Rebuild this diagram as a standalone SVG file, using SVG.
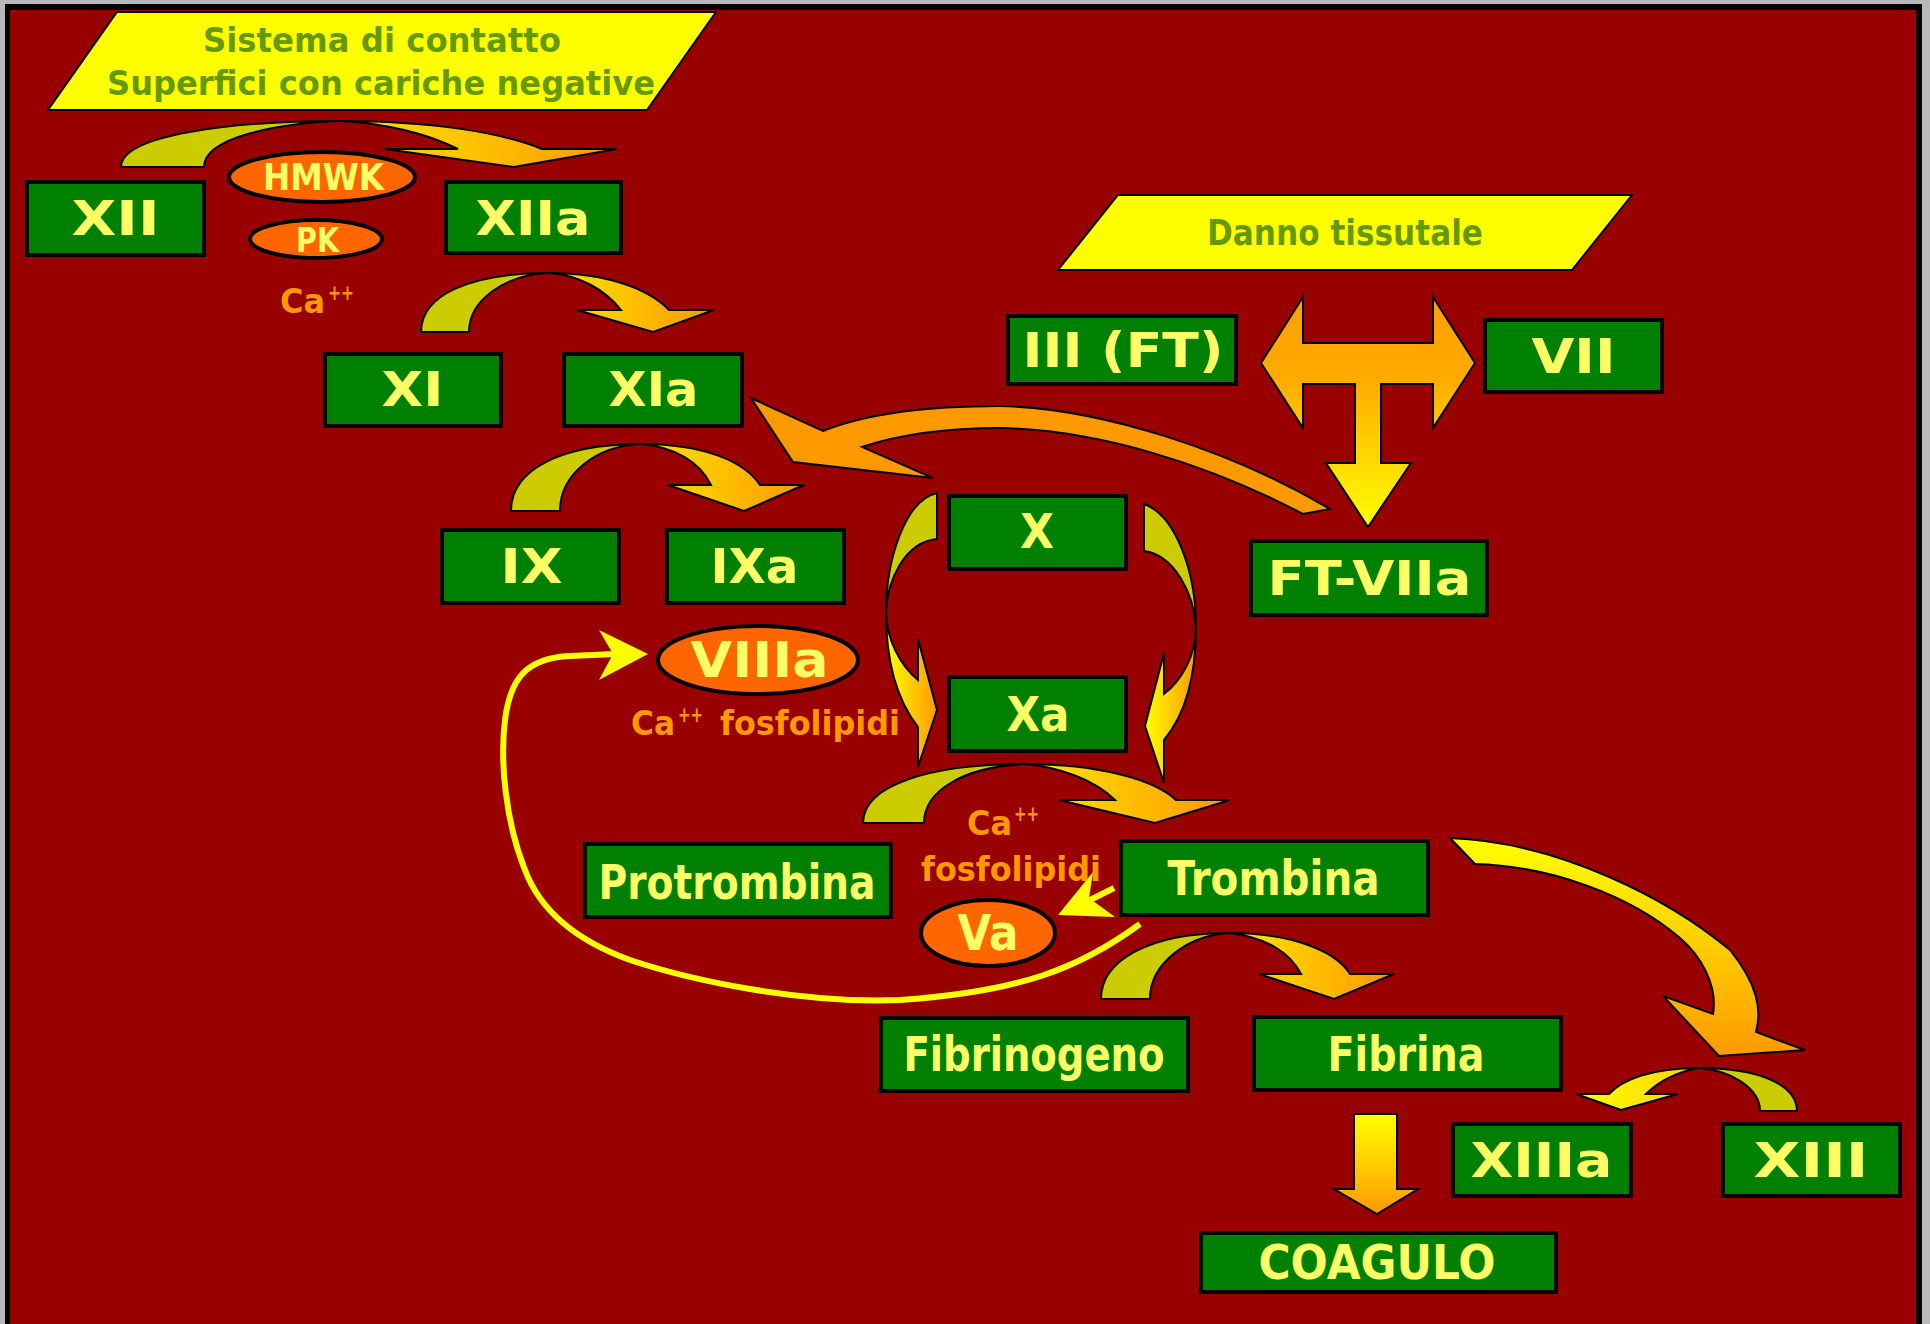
<svg xmlns="http://www.w3.org/2000/svg" width="1930" height="1324" viewBox="0 0 1930 1324">
  <defs>
    <linearGradient id="gH" x1="0" y1="0" x2="1" y2="0">
      <stop offset="0" stop-color="#FFE600"/>
      <stop offset="1" stop-color="#FF9900"/>
    </linearGradient>
    <linearGradient id="gHrev" x1="1" y1="0" x2="0" y2="0">
      <stop offset="0" stop-color="#FFD200"/>
      <stop offset="1" stop-color="#FFFF00"/>
    </linearGradient>
    <linearGradient id="gSide" x1="0" y1="0" x2="1" y2="0">
      <stop offset="0" stop-color="#FFFF00"/>
      <stop offset="1" stop-color="#FF9900"/>
    </linearGradient>
    <linearGradient id="gDown" x1="0" y1="0" x2="0" y2="1">
      <stop offset="0" stop-color="#FFFF00"/>
      <stop offset="1" stop-color="#FF9900"/>
    </linearGradient>
    <linearGradient id="gT" x1="0" y1="0" x2="0" y2="1">
      <stop offset="0" stop-color="#FFA000"/>
      <stop offset="0.35" stop-color="#FFAA00"/>
      <stop offset="1" stop-color="#FFFF00"/>
    </linearGradient>
    <style>
      .box { fill: #008000; stroke: #000; stroke-width: 4; }
      .ell { fill: #FF6600; stroke: #000; stroke-width: 4; }
      .lbl { font-family: "DejaVu Sans", "Liberation Sans", sans-serif; font-weight: bold; fill: #FFFF66; text-anchor: middle; }
      .para { fill: #FFFF00; stroke: #000; stroke-width: 2; }
      .ptxt { font-family: "DejaVu Sans", "Liberation Sans", sans-serif; font-weight: bold; fill: #669900; text-anchor: middle; }
      .cof { font-family: "DejaVu Sans", "Liberation Sans", sans-serif; font-weight: bold; fill: #FF9900; }
      .olive { fill: #CCCC00; stroke: #000; stroke-width: 2; stroke-linejoin: round; }
      .arr { stroke: #000; stroke-width: 2; stroke-linejoin: miter; }
    </style>
  </defs>

  <!-- slide frame -->
  <rect x="0" y="0" width="1930" height="1324" fill="#B8B8B8"/>
  <rect x="5" y="4" width="1917" height="1330" fill="#000"/>
  <rect x="10" y="10" width="1906" height="1330" fill="#990000"/>

  <!-- header banners -->
  <g id="sistema-contatto">
    <polygon class="para" points="117,12 716,12 647,110 48,110"/>
    <text class="ptxt" x="382" y="52" font-size="34" textLength="358" lengthAdjust="spacingAndGlyphs">Sistema di contatto</text>
    <text class="ptxt" x="381" y="95" font-size="34" textLength="548" lengthAdjust="spacingAndGlyphs">Superfici con cariche negative</text>
  </g>
  <g id="danno-tissutale">
    <polygon class="para" points="1118,195 1632,195 1572,270 1058,270"/>
    <text class="ptxt" x="1345" y="245" font-size="36" textLength="276" lengthAdjust="spacingAndGlyphs">Danno tissutale</text>
  </g>

  <!-- connectors -->
  <g id="connectors">
    <!-- XII -> XIIa -->
    <path class="olive" d="M121,167 C121,135 230,121 340,121 C280,123 204,137 204,167 Z"/>
    <path class="arr" fill="url(#gH)" d="M340,121 C430,121 500,132 542,149 L617,149 L514,167 L385,149 L458,149 C430,135 390,124 340,121 Z"/>
    <!-- XI -> XIa -->
    <path class="olive" d="M421,332 C421,295 470,273 548,273 C505,275 469,300 469,332 Z"/>
    <path class="arr" fill="url(#gH)" d="M548,273 C610,273 650,290 669,310 L714,310 L653,332 L577,310 L621,310 C605,290 580,275 548,273 Z"/>
    <!-- IX -> IXa -->
    <path class="olive" d="M511,511 C511,470 560,444 641,444 C595,446 560,475 560,511 Z"/>
    <path class="arr" fill="url(#gH)" d="M641,444 C705,444 745,462 760,485 L804,485 L744,511 L668,485 L711,485 C700,462 675,447 641,444 Z"/>
    <!-- Protrombina -> Trombina -->
    <path class="olive" d="M863,823 C863,785 930,764 1024,764 C965,767 924,790 924,823 Z"/>
    <path class="arr" fill="url(#gH)" d="M1024,764 C1100,764 1155,780 1176,800 L1230,800 L1155,823 L1059,800 L1115,800 C1095,780 1060,767 1024,764 Z"/>
    <!-- Fibrinogeno -> Fibrina -->
    <path class="olive" d="M1101,999 C1101,960 1150,933 1229,933 C1185,936 1150,965 1150,999 Z"/>
    <path class="arr" fill="url(#gH)" d="M1229,933 C1290,933 1335,950 1350,974 L1394,974 L1334,999 L1259,974 L1301,974 C1290,952 1265,937 1229,933 Z"/>
    <!-- XIII -> XIIIa -->
    <path class="olive" d="M1797,1111 C1797,1085 1760,1068 1699,1068 C1730,1070 1760,1088 1760,1111 Z"/>
    <path class="arr" fill="url(#gHrev)" d="M1699,1068 C1650,1068 1622,1080 1609,1094 L1576,1094 L1621,1110 L1678,1094 L1646,1094 C1660,1080 1680,1071 1699,1068 Z"/>

    <!-- X -> Xa, left side -->
    <path class="olive" d="M937,493 C905,500 886,560 886,613 C887,580 905,542 937,539 Z"/>
    <path class="arr" fill="url(#gSide)" d="M886,613 C886,660 897,700 918,727 L918,767 L937,710 L918,639 L918,680 C900,665 887,640 886,613 Z"/>
    <!-- X -> Xa, right side -->
    <path class="olive" d="M1144,504 C1175,515 1196,570 1196,627 C1194,595 1175,555 1144,551 Z"/>
    <path class="arr" fill="url(#gSide)" d="M1196,627 C1196,680 1185,715 1164,740 L1164,783 L1145,726 L1164,653 L1164,694 C1182,680 1196,655 1196,627 Z"/>

    <!-- FT-VIIa -> XIa -->
    <path class="arr" fill="#FF9900" d="M751,398 L823,431 C870,412 930,406 1000,406 C1100,408 1230,450 1330,509 L1303,514 C1210,465 1100,430 1000,428 C940,428 895,436 862,447 L933,478 L793,462 Z"/>

    <!-- tissue damage: III + VII -> FT-VIIa -->
    <path class="arr" fill="url(#gT)" d="M1261,363 L1303,297 L1303,343 L1433,343 L1433,297 L1475,363 L1433,428 L1433,384 L1381,384 L1381,463 L1411,463 L1368,527 L1326,463 L1355,463 L1355,384 L1303,384 L1303,428 Z"/>

    <!-- Trombina -> XIII -->
    <path class="arr" fill="url(#gDown)" d="M1450,838 C1560,842 1670,900 1730,950 C1758,985 1762,1010 1756,1032 L1805,1050 L1719,1056 L1663,996 L1713,1014 C1718,985 1700,955 1680,938 C1630,895 1550,866 1475,864 Z"/>

    <!-- Fibrina -> COAGULO -->
    <path class="arr" fill="url(#gDown)" d="M1354,1114 L1397,1114 L1397,1189 L1418,1189 L1377,1214 L1334,1189 L1354,1189 Z"/>

    <!-- Trombina feedback -> VIIIa -->
    <path d="M1140,924 C1080,968 1020,992 900,1000 C800,1004 690,980 630,960 C575,940 540,910 525,870 C505,820 500,760 505,720 C510,680 525,658 570,656 L615,654" fill="none" stroke="#FFFF00" stroke-width="6"/>
    <polygon points="648,654 599,630 613,654 599,680" fill="#FFFF00"/>

    <!-- Trombina -> Va -->
    <line x1="1114" y1="888" x2="1088" y2="901" stroke="#FFFF00" stroke-width="6"/>
    <polygon points="1058,915 1093,872 1089,898 1115,917" fill="#FFFF00"/>
  </g>

  <!-- cofactor labels -->
  <g id="cofattori">
    <text class="cof" x="280" y="313" font-size="34" textLength="45" lengthAdjust="spacingAndGlyphs">Ca</text>
    <text class="cof" x="328" y="300" font-size="22" textLength="26" lengthAdjust="spacingAndGlyphs">++</text>
    <text class="cof" x="631" y="735" font-size="34" textLength="44" lengthAdjust="spacingAndGlyphs">Ca</text>
    <text class="cof" x="678" y="722" font-size="22" textLength="25" lengthAdjust="spacingAndGlyphs">++</text>
    <text class="cof" x="720" y="735" font-size="34" textLength="180" lengthAdjust="spacingAndGlyphs">fosfolipidi</text>
    <text class="cof" x="967" y="835" font-size="34" textLength="45" lengthAdjust="spacingAndGlyphs">Ca</text>
    <text class="cof" x="1014" y="821" font-size="22" textLength="25" lengthAdjust="spacingAndGlyphs">++</text>
    <text class="cof" x="921" y="881" font-size="34" textLength="180" lengthAdjust="spacingAndGlyphs">fosfolipidi</text>
  </g>

  <!-- factor nodes -->
  <g id="n-XII"><rect class="box" x="27" y="182" width="177" height="73"/><text class="lbl" x="115.5" y="235" font-size="48" textLength="88" lengthAdjust="spacingAndGlyphs">XII</text></g>
  <g id="n-XIIa"><rect class="box" x="446" y="182" width="175" height="71"/><text class="lbl" x="533" y="235" font-size="48" textLength="115" lengthAdjust="spacingAndGlyphs">XIIa</text></g>
  <g id="n-HMWK"><ellipse class="ell" cx="322" cy="177" rx="93" ry="25"/><text class="lbl" x="323.5" y="190" font-size="37" textLength="121" lengthAdjust="spacingAndGlyphs">HMWK</text></g>
  <g id="n-PK"><ellipse class="ell" cx="316" cy="239" rx="66" ry="19"/><text class="lbl" x="317.5" y="252" font-size="34" textLength="43" lengthAdjust="spacingAndGlyphs">PK</text></g>
  <g id="n-XI"><rect class="box" x="325" y="354" width="176" height="72"/><text class="lbl" x="412.5" y="406" font-size="48" textLength="62" lengthAdjust="spacingAndGlyphs">XI</text></g>
  <g id="n-XIa"><rect class="box" x="564" y="354" width="178" height="72"/><text class="lbl" x="653.5" y="406" font-size="48" textLength="90" lengthAdjust="spacingAndGlyphs">XIa</text></g>
  <g id="n-IX"><rect class="box" x="442" y="530" width="177" height="73"/><text class="lbl" x="531.5" y="583" font-size="48" textLength="62" lengthAdjust="spacingAndGlyphs">IX</text></g>
  <g id="n-IXa"><rect class="box" x="667" y="530" width="177" height="73"/><text class="lbl" x="754.5" y="583" font-size="48" textLength="88" lengthAdjust="spacingAndGlyphs">IXa</text></g>
  <g id="n-X"><rect class="box" x="949" y="496" width="177" height="73"/><text class="lbl" x="1037" y="548" font-size="48" textLength="34" lengthAdjust="spacingAndGlyphs">X</text></g>
  <g id="n-Xa"><rect class="box" x="949" y="677" width="177" height="74"/><text class="lbl" x="1038" y="731" font-size="48" textLength="63" lengthAdjust="spacingAndGlyphs">Xa</text></g>
  <g id="n-VIIIa"><ellipse class="ell" cx="758" cy="660" rx="100" ry="34"/><text class="lbl" x="759.5" y="677" font-size="50" textLength="138" lengthAdjust="spacingAndGlyphs">VIIIa</text></g>
  <g id="n-III"><rect class="box" x="1008" y="316" width="228" height="68"/><text class="lbl" x="1123" y="367" font-size="48" textLength="201" lengthAdjust="spacingAndGlyphs">III (FT)</text></g>
  <g id="n-VII"><rect class="box" x="1485" y="320" width="177" height="72"/><text class="lbl" x="1573.5" y="373" font-size="48" textLength="84" lengthAdjust="spacingAndGlyphs">VII</text></g>
  <g id="n-FT-VIIa"><rect class="box" x="1251" y="541" width="236" height="74"/><text class="lbl" x="1369.5" y="595" font-size="48" textLength="204" lengthAdjust="spacingAndGlyphs">FT-VIIa</text></g>
  <g id="n-Protrombina"><rect class="box" x="585" y="844" width="306" height="73"/><text class="lbl" x="737" y="899" font-size="48" textLength="277" lengthAdjust="spacingAndGlyphs">Protrombina</text></g>
  <g id="n-Trombina"><rect class="box" x="1121" y="841" width="307" height="74"/><text class="lbl" x="1273.5" y="895" font-size="48" textLength="212" lengthAdjust="spacingAndGlyphs">Trombina</text></g>
  <g id="n-Va"><ellipse class="ell" cx="988" cy="933" rx="67" ry="33"/><text class="lbl" x="988" y="950" font-size="50" textLength="61" lengthAdjust="spacingAndGlyphs">Va</text></g>
  <g id="n-Fibrinogeno"><rect class="box" x="881" y="1018" width="307" height="73"/><text class="lbl" x="1034" y="1071" font-size="48" textLength="261" lengthAdjust="spacingAndGlyphs">Fibrinogeno</text></g>
  <g id="n-Fibrina"><rect class="box" x="1254" y="1017" width="307" height="73"/><text class="lbl" x="1406" y="1071" font-size="48" textLength="157" lengthAdjust="spacingAndGlyphs">Fibrina</text></g>
  <g id="n-COAGULO"><rect class="box" x="1201" y="1233" width="355" height="59"/><text class="lbl" x="1377" y="1279" font-size="48" textLength="237" lengthAdjust="spacingAndGlyphs">COAGULO</text></g>
  <g id="n-XIIIa"><rect class="box" x="1453" y="1124" width="178" height="72"/><text class="lbl" x="1541.5" y="1177" font-size="48" textLength="142" lengthAdjust="spacingAndGlyphs">XIIIa</text></g>
  <g id="n-XIII"><rect class="box" x="1723" y="1124" width="177" height="72"/><text class="lbl" x="1811" y="1177" font-size="48" textLength="115" lengthAdjust="spacingAndGlyphs">XIII</text></g>
</svg>
